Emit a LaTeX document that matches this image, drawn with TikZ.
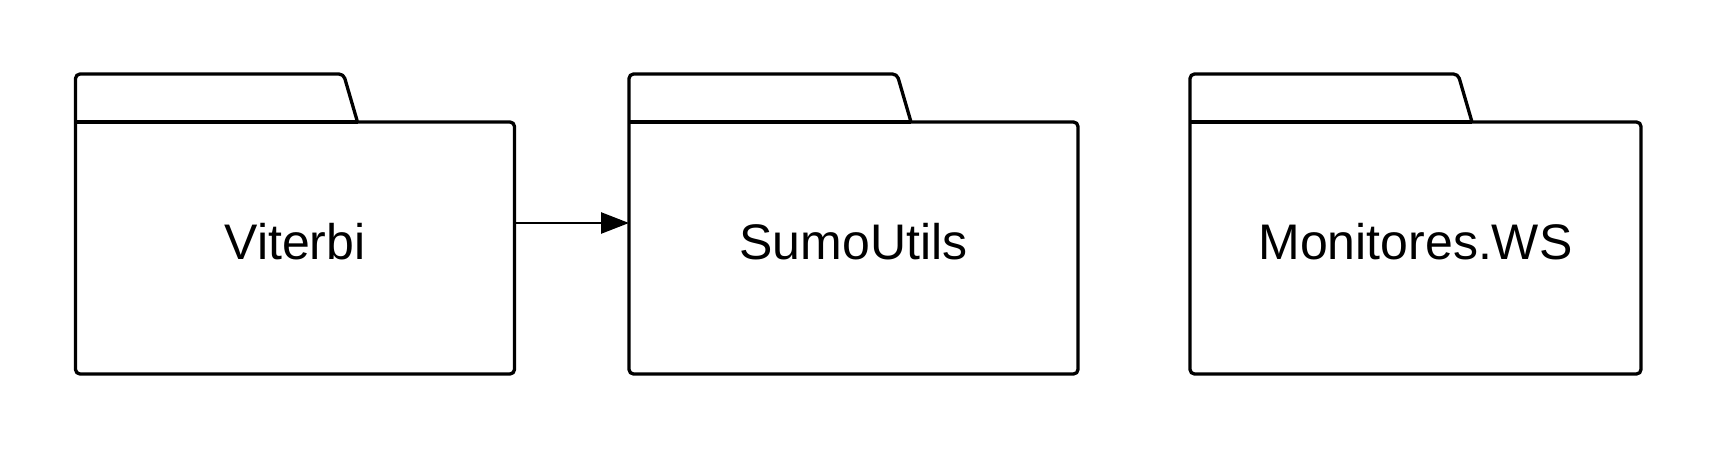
\documentclass[tikz,border=0pt]{standalone}
\usepackage{fontspec}
\setmainfont{Liberation Sans}
\usetikzlibrary{arrows.meta,calc}
\tikzset{
  pkg/.style={draw=none, minimum height=252pt, inner sep=0pt, outer sep=0pt},
  outline/.style={draw=black, line width=3.3pt, rounded corners=4.5pt, line join=round, line cap=round},
  lbl/.style={font=\fontsize{50}{60}\selectfont, anchor=base},
  dep/.style={line width=2.6pt, -{Triangle[length=28pt,width=21pt]}}
}
\begin{document}
\begin{tikzpicture}[x=1pt,y=-1pt]
\useasboundingbox (0,0) rectangle (1716,450);
\node[pkg, minimum width=439pt] (v) at (295,248) {};
\node[pkg, minimum width=449pt] (s) at (853.5,248) {};
\node[pkg, minimum width=451pt] (m) at (1415.5,248) {};
\node[lbl] (vt) at ($(v.center)+(0,11)$) {Viterbi};
\node[lbl] (st) at ($(s.center)+(0,11)$) {SumoUtils};
\node[lbl] (mt) at ($(m.center)+(0,11)$) {Monitores.WS};
\foreach \n in {v,s,m}{
  \draw[outline] ($(\n.north west)+(282,0)$) -- (\n.north east) -- (\n.south east) -- (\n.south west)
    -- ($(\n.north west)+(0,-48)$) -- ($(\n.north west)+(268,-48)$) -- ($(\n.north west)+(282,0)$);
  \draw[line width=3.3pt] (\n.north west) -- ($(\n.north west)+(282,0)$);
}
\draw[dep] ($(v.east)+(0,-25)$) -- ($(s.west)+(0,-25)$);
\end{tikzpicture}
\end{document}
